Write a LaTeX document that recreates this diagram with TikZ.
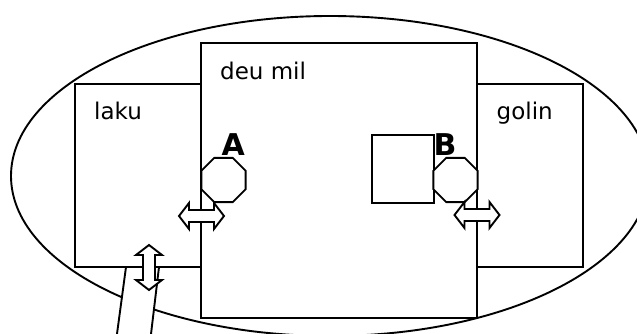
\documentclass[tikz,border=0pt]{standalone}
\usepackage{fontspec}
\setmainfont{DejaVu Sans}
\usetikzlibrary{shapes.geometric}
\begin{document}
\begin{tikzpicture}[x=1pt,y=-1pt,
  box/.style={draw,line width=2.3pt,fill=white,rectangle,inner sep=0pt},
  thinline/.style={line width=1.9pt},
  oct/.style={draw,fill=white,line width=1.9pt,regular polygon,regular polygon sides=8,minimum size=48pt,inner sep=0pt},
  dblarrow/.pic={
    \draw[fill=white,line width=1.9pt,line join=miter]
      (-22.5,0) -- (-12.5,-13) -- (-12.5,-6) -- (12.5,-6) -- (12.5,-13)
      -- (22.5,0) -- (12.5,13) -- (12.5,6) -- (-12.5,6) -- (-12.5,13) -- cycle;
  },
  lbl/.style={font=\fontsize{23}{27}\selectfont,inner sep=0pt,anchor=base west},
  biglbl/.style={font=\fontsize{30}{34}\selectfont\bfseries,inner sep=0pt,anchor=base west}
]
\clip (0,0) rectangle (637,334);
\fill[white] (0,0) rectangle (637,334);
% outer ellipse
\draw[thinline] (330,176) ellipse [x radius=319, y radius=160];
% cable
\coordinate (c1) at (126,267);
\coordinate (c2) at (115.5,345);
\coordinate (c3) at (149.7,345);
\coordinate (c4) at (159,267);
\fill[white] (c1) -- (c2) -- (c3) -- (c4) -- cycle;
\draw[thinline] (c1) -- (c2);
\draw[thinline] (c4) -- (c3);
% boxes
\node[box,minimum width=126pt,minimum height=183pt] (laku) at (138,175.5) {};
\node[box,minimum width=106pt,minimum height=183pt] (golin) at (530,175.5) {};
\node[box,minimum width=276pt,minimum height=275pt] (deumil) at (339,180.5) {};
\node[box,minimum width=62pt,minimum height=68pt] (sq) at (403,169) {};
% octagons
\node[oct] (octA) at (223.5,180) {};
\node[oct] (octB) at (455.5,180) {};
% double arrows
\pic (arrA) at (201.5,216) {dblarrow};
\pic (arrB) at (477,215) {dblarrow};
\pic[rotate=90] (arrL) at (149,267.5) {dblarrow};
% labels
\node[lbl] (tdeu) at (220,80) {deu mil};
\node[lbl] (tlaku) at (94,120) {laku};
\node[lbl] (tgolin) at (496.5,120) {golin};
\node[biglbl] (tA) at (221.5,156) {A};
\node[biglbl] (tB) at (433.5,155) {B};
\end{tikzpicture}
\end{document}
